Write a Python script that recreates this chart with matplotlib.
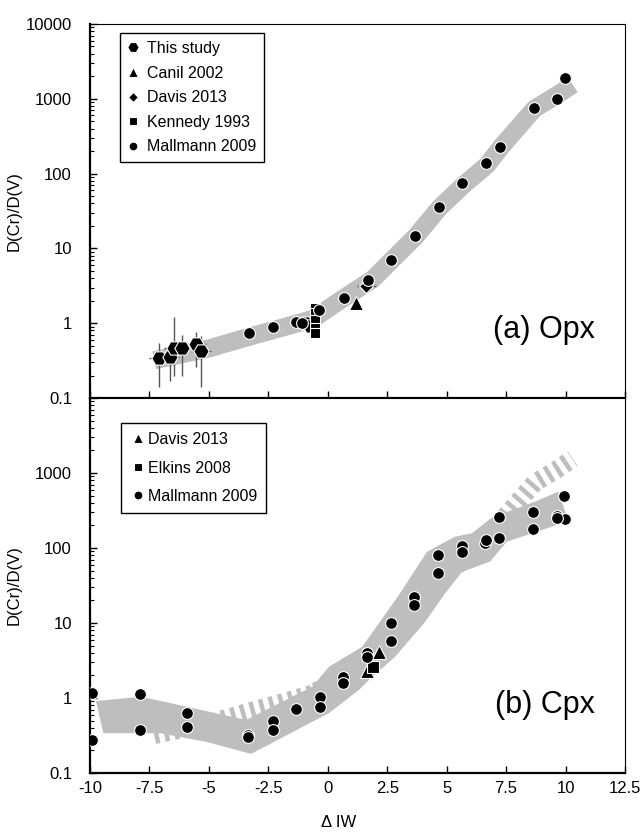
import numpy as np
import matplotlib
matplotlib.use("Agg")
from matplotlib import pyplot as plt
from matplotlib.ticker import FixedLocator, LogLocator, FuncFormatter, NullFormatter

plt.rcParams['font.family'] = ['Liberation Sans', 'DejaVu Sans']

# ---- (a) Opx data ----
study_x = [-7.10, -6.64, -6.48, -6.15, -5.53, -5.32, -0.95, -0.75]
study_y = [0.34, 0.35, 0.46, 0.46, 0.52, 0.42, 1.00, 0.93]
study_lo = [0.14, 0.17, 0.20, 0.20, 0.26, 0.14, 1.00, 0.93]
study_hi = [0.55, 0.55, 1.20, 0.70, 0.77, 0.67, 1.00, 0.93]
study_xerr = [0.4, 0.4, 0.4, 0.4, 0.4, 0.4, 0.0, 0.0]

canil_x = [1.18]
canil_y = [1.85]

davis_opx_x = [1.62]
davis_opx_y = [3.1]

kennedy_x = [-0.55, -0.55, -0.55, -0.55, -0.55]
kennedy_y = [1.60, 1.35, 1.10, 0.86, 0.73]

mall_opx_x = [-3.31, -2.32, -1.32, -1.10, -0.36, 0.68, 1.68, 2.66, 3.67, 4.66,
              5.65, 6.66, 7.24, 8.67, 9.65, 9.97]
mall_opx_y = [0.73, 0.88, 1.05, 1.02, 1.5, 2.15, 3.8, 7.0, 14.6, 36,
              75, 137, 229, 750, 985, 1920]

# Opx trend band (centre line)
opx_band_x = [-7.3, -5.0, -3.3, -1.6, -0.6, 0.5, 1.9, 2.7, 3.7, 4.7, 5.7, 6.7,
              7.3, 8.7, 9.6, 10.3]
opx_band_y = [0.32, 0.46, 0.66, 0.93, 1.15, 2.0, 3.9, 7.0, 14.5, 35, 70, 130,
              230, 740, 1100, 1550]

# ---- (b) Cpx data ----
davis_cpx_x = [1.66, 2.15]
davis_cpx_y = [2.31, 4.15]

elkins_x = [1.90]
elkins_y = [2.61]

mall_cpx_x = [-9.9, -9.9, -7.9, -7.9, -5.92, -5.92, -3.34, -3.34, -2.32, -2.32,
              -1.34, -0.32, -0.32, 0.65, 0.65, 1.66, 1.66, 2.64, 2.64, 3.64,
              3.64, 4.62, 4.62, 5.64, 5.64, 6.62, 6.65, 7.22, 7.22, 8.64,
              8.64, 9.93, 9.62, 9.97, 9.62]
mall_cpx_y = [1.16, 0.275, 1.12, 0.37, 0.64, 0.41, 0.32, 0.30, 0.49, 0.37,
              0.71, 1.04, 0.77, 1.92, 1.6, 3.94, 3.5, 9.9, 5.8, 22,
              17.4, 81, 47, 107, 89, 116, 128, 256, 135, 305,
              181, 494, 267, 241, 250]

# Cpx trend band (outline)
cpx_band_x = [-9.75, -7.9, -7.07, -3.44, -0.65, 0.05, 1.45, 2.99, 4.17, 5.36,
              6.06, 6.76, 6.97, 8.71, 9.69, 10.11, 10.04, 7.52, 6.83, 5.64,
              4.94, 4.11, 2.85, 1.73, 1.31, 0.05, -3.23, -5.11, -7.07, -9.44]
cpx_band_y = [0.91, 1.04, 0.92, 0.51, 1.42, 2.61, 4.83, 23.6, 89, 142,
              157, 236, 261, 414, 564, 236, 224, 121, 66, 48,
              25, 10.5, 3.6, 1.74, 1.28, 0.63, 0.18, 0.26, 0.34, 0.34]

xticks = [-10, -7.5, -5, -2.5, 0, 2.5, 5, 7.5, 10, 12.5]

band_grey = '#bebebe'
fs = 12

fig = plt.figure(figsize=(6.43, 8.32), dpi=100)
ax1 = fig.add_axes([0.14, 0.5216, 0.832, 0.4496])
ax2 = fig.add_axes([0.14, 0.0709, 0.832, 0.4507])


def style_axis(ax, ylabels):
    ax.set_yscale('log')
    ax.set_xlim(-10, 12.5)
    ax.set_ylim(0.1, 10000)
    ax.xaxis.set_major_locator(FixedLocator(xticks))
    ax.xaxis.set_major_formatter(FuncFormatter(lambda v, p: '%g' % v))
    ax.yaxis.set_major_locator(FixedLocator([0.1, 1, 10, 100, 1000, 10000]))
    ax.yaxis.set_major_formatter(FuncFormatter(lambda v, p: ('%g' % v) if v in ylabels else ''))
    ax.yaxis.set_minor_locator(LogLocator(base=10, subs=np.arange(2, 10)))
    ax.yaxis.set_minor_formatter(NullFormatter())
    ax.tick_params(axis='both', which='major', direction='in', length=5, width=1,
                   labelsize=fs, right=False, top=False)
    ax.tick_params(axis='y', which='minor', direction='in', length=3, width=0.8, right=False)
    ax.tick_params(axis='y', which='major', pad=13)
    ax.tick_params(axis='x', which='major', pad=6)
    for s in ['left', 'bottom']:
        ax.spines[s].set_linewidth(1.6)
    for s in ['top', 'right']:
        ax.spines[s].set_linewidth(0.8)


mk = dict(linestyle='none', markeredgecolor='white', markeredgewidth=0.8, color='black', zorder=4)

# ---- top panel ----
style_axis(ax1, [0.1, 1, 10, 100, 1000, 10000])
ax1.tick_params(axis='x', labelbottom=False)
ax1.plot(opx_band_x, opx_band_y, color=band_grey, lw=13, solid_capstyle='butt',
         solid_joinstyle='round', zorder=1)

sy = np.array(study_y)
yerr = [sy - np.array(study_lo), np.array(study_hi) - sy]
ax1.errorbar(study_x, study_y, yerr=yerr, xerr=study_xerr, fmt='none',
             ecolor='#555555', elinewidth=1, capsize=0, zorder=2)
ax1.errorbar(davis_opx_x, davis_opx_y, xerr=[0.4], fmt='none',
             ecolor='#555555', elinewidth=1, capsize=0, zorder=2)

ax1.plot(study_x, study_y, marker='H', markersize=11, label='This study', **mk)
ax1.plot(canil_x, canil_y, marker='^', markersize=10, label='Canil 2002', **mk)
ax1.plot(davis_opx_x, davis_opx_y, marker='D', markersize=7, label='Davis 2013', **mk)
ax1.plot(kennedy_x, kennedy_y, marker='s', markersize=7.5, label='Kennedy 1993', **mk)
ax1.plot(mall_opx_x, mall_opx_y, marker='o', markersize=8.5, label='Mallmann 2009', **mk)

leg1 = ax1.legend(loc='upper left', bbox_to_anchor=(0.056, 0.976), fontsize=11.5,
                  frameon=True, fancybox=False, edgecolor='black', framealpha=1,
                  markerscale=0.75, handlelength=0.6, handletextpad=0.6,
                  labelspacing=0.6, borderpad=0.5, borderaxespad=0)
leg1.get_frame().set_linewidth(1)

ax1.text(0.944, 0.182, '(a) Opx', transform=ax1.transAxes, ha='right', va='center',
         fontsize=22)

# ---- bottom panel ----
style_axis(ax2, [0.1, 1, 10, 100, 1000])
ax2.plot(opx_band_x, opx_band_y, color=band_grey, lw=13, linestyle=(0, (0.25, 0.3)),
         dash_capstyle='butt', zorder=1)
ax2.fill(cpx_band_x, cpx_band_y, color=band_grey, lw=0, zorder=2)

ax2.plot(davis_cpx_x, davis_cpx_y, marker='^', markersize=10, label='Davis 2013', **mk)
ax2.plot(elkins_x, elkins_y, marker='s', markersize=8, label='Elkins 2008', **mk)
ax2.plot(mall_cpx_x, mall_cpx_y, marker='o', markersize=8.5, label='Mallmann 2009', **mk)

leg2 = ax2.legend(loc='upper left', bbox_to_anchor=(0.058, 0.933), fontsize=11.5,
                  frameon=True, fancybox=False, edgecolor='black', framealpha=1,
                  markerscale=0.75, handlelength=1.0, handletextpad=0.15,
                  labelspacing=0.85, borderpad=0.55, borderaxespad=0)
leg2.get_frame().set_linewidth(1)

ax2.text(0.944, 0.181, '(b) Cpx', transform=ax2.transAxes, ha='right', va='center',
         fontsize=22)

fig.text(0.022, 0.746, 'D(Cr)/D(V)', rotation=90, ha='center', va='center', fontsize=fs)
fig.text(0.022, 0.297, 'D(Cr)/D(V)', rotation=90, ha='center', va='center', fontsize=fs)
fig.text(0.526, 0.012, '\u0394 IW', ha='center', va='center', fontsize=fs)

fig.savefig('out.png', dpi=100)
